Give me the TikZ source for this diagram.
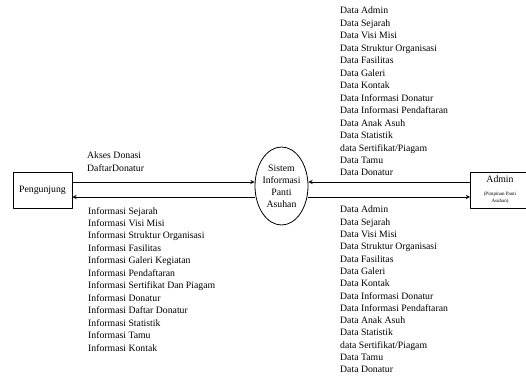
\documentclass[tikz,border=0pt]{standalone}
\usepackage{fontspec}
\setmainfont{Liberation Serif}
\usetikzlibrary{shapes.geometric}
\begin{document}
\begin{tikzpicture}[x=1pt,y=-1pt,>=stealth,line join=round,font=\fontsize{9.75}{12.46}\selectfont]
\useasboundingbox (0,0) rectangle (526,376);
\tikzset{entitas/.style={draw,line width=0.8pt,minimum width=59pt,minimum height=36pt,inner sep=0pt,align=center},
  daftar/.style={anchor=north west,align=left,inner sep=0pt},
  alir/.style={->,line width=0.9pt}}
% entitas luar dan proses
\node[entitas] (peng) at (42.5,190) {Pengunjung};
\node[entitas] (adm) at (500,190) {Admin\\[0pt]{\fontsize{5}{6}\selectfont (Pimpinan Panti}\\[-5pt]{\fontsize{5}{6}\selectfont Asuhan)}};
\node[ellipse,draw,line width=0.8pt,minimum width=53pt,minimum height=78pt,inner xsep=-4pt,inner ysep=0pt,align=center,font=\fontsize{9.75}{12}\selectfont] (sis) at (281.5,186) {Sistem\\Informasi\\Panti\\Asuhan};
% aliran data
\draw[alir] (peng.east |- 0,182) -- (sis.west |- 0,182);
\draw[alir] (sis.west |- 0,197) -- (peng.east |- 0,197);
\draw[alir] (adm.west |- 0,182) -- (sis.east |- 0,182);
\draw[alir] (sis.east |- 0,197) -- (adm.west |- 0,197);
% label aliran
\node[daftar] (lpeng) at (87,152) {Akses Donasi\\DaftarDonatur};
\node[daftar] (lsis) at (88,207) {Informasi Sejarah\\Informasi Visi Misi\\Informasi Struktur Organisasi\\Informasi Fasilitas\\Informasi Galeri Kegiatan\\Informasi Pendaftaran\\Informasi Sertifikat Dan Piagam\\Informasi Donatur\\Informasi Daftar Donatur\\Informasi Statistik\\Informasi Tamu\\Informasi Kontak};
\node[daftar] (ladm) at (340,7) {Data Admin\\Data Sejarah\\Data Visi Misi\\Data Struktur Organisasi\\Data Fasilitas\\Data Galeri\\Data Kontak\\Data Informasi Donatur\\Data Informasi Pendaftaran\\Data Anak Asuh\\Data Statistik\\data Sertifikat/Piagam\\Data Tamu\\Data Donatur};
\node[daftar,font=\fontsize{9.75}{12.3}\selectfont] (lsis2) at (340,206) {Data Admin\\Data Sejarah\\Data Visi Misi\\Data Struktur Organisasi\\Data Fasilitas\\Data Galeri\\Data Kontak\\Data Informasi Donatur\\Data Informasi Pendaftaran\\Data Anak Asuh\\Data Statistik\\data Sertifikat/Piagam\\Data Tamu\\Data Donatur};
\end{tikzpicture}
\end{document}
